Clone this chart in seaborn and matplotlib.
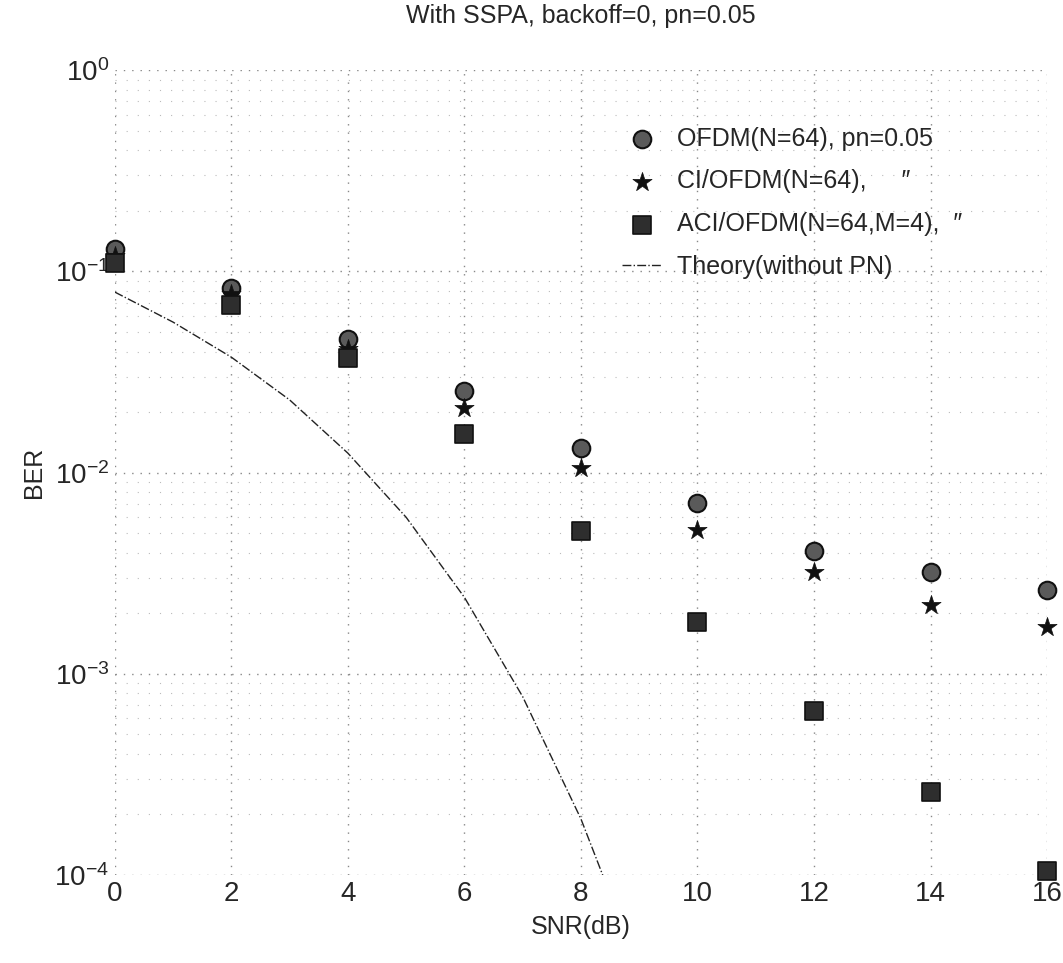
import numpy as np
import pandas as pd
import matplotlib
matplotlib.use("Agg")
import matplotlib.pyplot as plt
import seaborn as sns

# values
snr = [0, 2, 4, 6, 8, 10, 12, 14, 16]
ber_ofdm = [0.13, 0.083, 0.046, 0.0256, 0.0133, 0.0071, 0.0041, 0.0032, 0.0026]
ber_ci = [0.12, 0.077, 0.041, 0.021, 0.0105, 0.0052, 0.0032, 0.0022, 0.0017]
ber_aci = [0.11, 0.068, 0.037, 0.0156, 0.0051, 0.0018, 0.00065, 0.00026, 0.000105]

snr_theory = [0, 1, 2, 3, 4, 5, 6, 7, 8, 9]
ber_theory = [0.079, 0.056, 0.0375, 0.023, 0.0125, 0.006, 0.0024, 0.00077, 0.00019, 0.000034]

labels = ["OFDM(N=64), pn=0.05", "CI/OFDM(N=64),     \u2033",
          "ACI/OFDM(N=64,M=4),  \u2033", "Theory(without PN)"]

sns.set_theme(style="white")
plt.rcParams["font.family"] = ["Liberation Sans", "DejaVu Sans"]
plt.rcParams["axes.unicode_minus"] = False

fig, ax = plt.subplots(figsize=(10.63, 9.63), dpi=100)
fig.subplots_adjust(left=0.108, right=0.985, top=0.927, bottom=0.0914)

sns.scatterplot(x=snr, y=ber_ofdm, marker="o", s=160, color="#5a5a5a",
                edgecolor="#111111", linewidth=1.5, label=labels[0], ax=ax,
                clip_on=False, zorder=3)
sns.scatterplot(x=snr, y=ber_ci, marker="*", s=210, color="#111111",
                edgecolor="#111111", linewidth=0.5, label=labels[1], ax=ax,
                clip_on=False, zorder=3)
sns.scatterplot(x=snr, y=ber_aci, marker="s", s=150, color="#2e2e2e",
                edgecolor="#111111", linewidth=1.2, label=labels[2], ax=ax,
                clip_on=False, zorder=3)
sns.lineplot(x=snr_theory, y=ber_theory, color="#222222", linestyle="-.",
             linewidth=1.0, label=labels[3], ax=ax)

ax.set_yscale("log")
ax.set_xlim(0, 16)
ax.set_ylim(1e-4, 1)
ax.set_xticks(np.arange(0, 17, 2))
ax.set_yticks([1e-4, 1e-3, 1e-2, 1e-1, 1])

ax.grid(True, which="major", linestyle=(0, (1, 5)), color="#888888", linewidth=1.0)
ax.grid(True, which="minor", axis="y", linestyle=(0, (1, 9)), color="#bbbbbb", linewidth=0.8)
for sp in ax.spines.values():
    sp.set_visible(False)
ax.tick_params(axis="both", which="both", length=0, labelsize=20, pad=4)

ax.set_title("With SSPA, backoff=0, pn=0.05", fontsize=18, pad=34)
ax.set_xlabel("SNR(dB)", fontsize=18, labelpad=6)
ax.set_ylabel("BER", fontsize=18, labelpad=6)

ax.legend(loc="upper left", bbox_to_anchor=(0.52, 0.958), frameon=False,
          fontsize=18, handlelength=1.6, handletextpad=0.6, labelspacing=0.75)

plt.savefig("out.png", dpi=100)
